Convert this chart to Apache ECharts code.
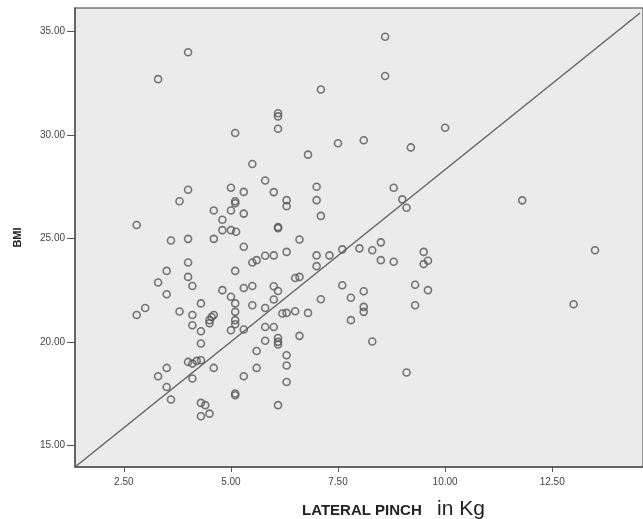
<!DOCTYPE html>
<html><head><meta charset="utf-8">
<script src="https://cdn.jsdelivr.net/npm/echarts@6/dist/echarts.min.js"></script>
<style>html,body{margin:0;padding:0;background:#fff}#c{width:643px;height:519px}</style>
</head><body><div id="c"></div>
<script>
// Lateral pinch (kg) values
const pinchKg = [
4.0,3.3,5.1,8.6,8.6,7.1,6.1,6.1,6.1,7.5,8.1,9.2,10.0,6.8,
5.5,5.8,5.0,5.3,4.0,3.8,5.1,5.1,4.6,5.0,5.3,4.8,4.8,5.0,5.12,2.8,3.6,4.0,4.6,5.3,5.5,5.6,5.8,4.0,3.5,5.1,4.0,3.3,4.1,3.5,4.8,5.3,5.5,5.0,4.3,3.0,5.5,3.8,
2.8,4.1,4.1,4.6,4.55,4.5,4.5,5.1,5.1,5.1,5.1,5.0,5.3,5.8,5.8,4.3,4.3,5.6,5.6,5.3,4.0,4.1,4.2,4.3,4.6,4.1,3.5,3.3,3.5,3.6,5.1,5.1,4.3,4.4,4.5,4.3,
6.0,6.3,6.3,7.0,7.0,7.1,8.8,9.0,9.1,6.1,6.1,6.6,6.0,6.3,7.0,7.0,7.3,7.6,8.0,8.3,8.5,8.5,8.8,9.5,9.5,9.6,6.5,6.6,6.0,6.1,6.0,5.8,7.6,7.1,7.8,8.1,8.1,9.3,9.6,9.3,
6.2,6.3,6.5,6.8,8.1,7.8,8.3,9.1,6.0,6.1,6.1,6.1,6.6,6.3,6.3,6.3,6.1,
11.8,13.5,13.0
];
// BMI values
const bmi = [
34.0,32.7,30.1,34.75,32.85,32.2,31.05,30.9,30.3,29.6,29.75,29.4,30.35,29.05,
28.6,27.8,27.45,27.25,27.35,26.8,26.8,26.7,26.35,26.35,26.2,25.9,25.4,25.4,25.32,25.65,24.9,24.98,24.98,24.6,23.84,23.95,24.16,23.84,23.43,23.43,23.14,22.87,22.7,22.3,22.5,22.6,22.7,22.18,21.86,21.64,21.77,21.47,
21.3,21.3,20.8,21.3,21.2,21.05,20.9,21.86,21.45,21.05,20.85,20.56,20.6,20.72,20.05,20.51,19.92,19.56,18.74,18.34,19.03,18.95,19.08,19.11,18.74,18.23,18.74,18.34,17.82,17.21,17.5,17.42,17.05,16.94,16.53,16.4,
27.24,26.85,26.56,27.5,26.85,26.09,27.45,26.89,26.48,25.55,25.5,24.95,24.18,24.35,24.18,23.66,24.18,24.47,24.52,24.43,24.81,23.95,23.87,24.35,23.76,23.92,23.09,23.14,22.69,22.46,22.05,21.64,22.74,22.06,22.13,22.45,21.69,22.76,22.5,21.77,
21.37,21.4,21.48,21.4,21.45,21.05,20.02,18.52,20.72,20.19,20.0,19.87,20.29,19.35,18.86,18.06,16.94,
26.84,24.43,21.82
];
// Reference line endpoints
const refLineX = [1.36, 14.55];
const refLineY = [13.95, 35.9];
// Tick values
const xTicks = [2.5, 5, 7.5, 10, 12.5];
const yTicks = [15, 20, 25, 30, 35];

const points = pinchKg.map((x, i) => [x, bmi[i]]);
const linePts = refLineX.map((x, i) => [x, refLineY[i]]);

const chart = echarts.init(document.getElementById('c'), null, {renderer: 'canvas'});
chart.setOption({
  animation: false,
  grid: {left: 75, top: 8, right: -3, bottom: 52, show: true, backgroundColor: '#ebebeb', borderColor: '#7a7a7a', borderWidth: 1.5},
  xAxis: {
    type: 'value', min: 1.36, max: 14.62,
    axisLine: {show: true, onZero: false, lineStyle: {color: '#555', width: 1.5}},
    axisTick: {show: true, customValues: xTicks, length: 5, lineStyle: {color: '#555'}},
    axisLabel: {customValues: xTicks, formatter: v => v.toFixed(2), color: '#444', fontSize: 10, fontFamily: 'Liberation Sans', margin: 10},
    splitLine: {show: false}
  },
  yAxis: {
    type: 'value', min: 13.95, max: 36.14,
    name: 'BMI', nameLocation: 'middle', nameGap: 52, nameRotate: 90,
    nameTextStyle: {fontWeight: 'bold', fontSize: 11, color: '#222', fontFamily: 'Liberation Sans'},
    axisLine: {show: true, onZero: false, lineStyle: {color: '#555', width: 1.5}},
    axisTick: {show: true, customValues: yTicks, length: 8, lineStyle: {color: '#555'}},
    axisLabel: {customValues: yTicks, formatter: v => v.toFixed(2), color: '#444', fontSize: 10, fontFamily: 'Liberation Sans', margin: 10},
    splitLine: {show: false}
  },
  graphic: [
    {type: 'text', x: 302, y: 518,
     style: {text: 'LATERAL PINCH', font: 'bold 15px "Liberation Sans"', fill: '#222', verticalAlign: 'bottom'}},
    {type: 'text', x: 437, y: 520,
     style: {text: 'in Kg', font: '21px "Liberation Sans"', fill: '#222', verticalAlign: 'bottom'}}
  ],
  series: [
    {type: 'line', data: linePts, symbol: 'none', lineStyle: {color: '#666', width: 1.5}, silent: true, z: 1},
    {type: 'scatter', data: points, symbol: 'circle', symbolSize: 7,
     itemStyle: {color: 'rgba(0,0,0,0)', borderColor: '#555', borderWidth: 1.6}, z: 2}
  ]
});
</script></body></html>
